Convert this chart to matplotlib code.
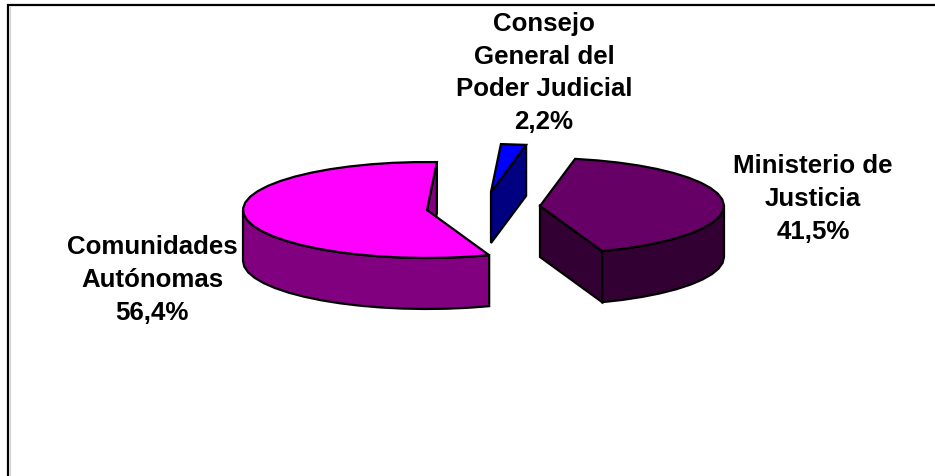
import numpy as np
import matplotlib
matplotlib.use("Agg")
import matplotlib.pyplot as plt
from matplotlib.patches import Polygon

categories = ["Ministerio de\nJusticia", "Comunidades\nAutónomas", "Consejo\nGeneral del\nPoder Judicial"]
values = [41.5, 56.4, 2.2]

top_colors = ["#660066", "#FF00FF", "#0000FF"]
side_colors = ["#330033", "#800080", "#000080"]
apexes = [(540, 207), (427, 211), (491, 193)]
label_pos = [(813, 199), (152, 280), (544, 73)]

RX, RY, DEPTH = 184, 48, 51
START = 11.0
STEP = 7.0

W, H = 935, 477
fig = plt.figure(figsize=(W / 100, H / 100), dpi=100)
ax = fig.add_axes([0, 0, 1, 1])
ax.set_xlim(0, W)
ax.set_ylim(H, 0)
ax.axis("off")


def pt(apex, deg):
    t = np.radians(deg)
    return (apex[0] + RX * np.sin(t), apex[1] - RY * np.cos(t))


def arc(apex, a, b):
    n = max(1, int(round(abs(b - a) / STEP)))
    return [pt(apex, d) for d in np.linspace(a, b, n + 1)]


def down(points):
    return [(x, y + DEPTH) for x, y in points]


def face(points, color, z):
    ax.add_patch(Polygon(points, closed=True, facecolor=color, edgecolor="black",
                         linewidth=1.6, joinstyle="miter", zorder=z))


total = sum(values)
angle = START
for i, v in enumerate(values):
    sweep = v / total * 360
    a, b = angle, angle + sweep
    apex = apexes[i]
    z = 2 + i

    # radial cut face running from the apex to the trailing end of the slice
    cut = [apex, pt(apex, b)]
    face(cut + down(cut)[::-1], side_colors[i], z)

    # outer wall: only the front half of the rim is visible
    lo, hi = max(a, 90), min(b, 270)
    if hi > lo:
        rim = arc(apex, lo, hi)
        face(rim + down(rim)[::-1], side_colors[i], z)

    # top surface
    face([apex] + arc(apex, a, b), top_colors[i], z)
    angle = b

for cat, v, (x, y) in zip(categories, values, label_pos):
    ax.text(x, y, f"{cat}\n{v:.1f}%".replace(".", ","), ha="center", va="center",
            family="Liberation Sans", fontweight="bold", fontsize=18.6,
            linespacing=1.46, color="black", zorder=10)

# chart frame: only the top and left edges fall inside the picture
ax.plot([8, 8, W], [H, 6, 6], color="black", lw=1.6, solid_joinstyle="miter", zorder=1)
ax.plot([10, 10], [8, H], color="#d0d0d0", lw=0.8, zorder=0)

fig.savefig("out.png", dpi=100, facecolor="white")
